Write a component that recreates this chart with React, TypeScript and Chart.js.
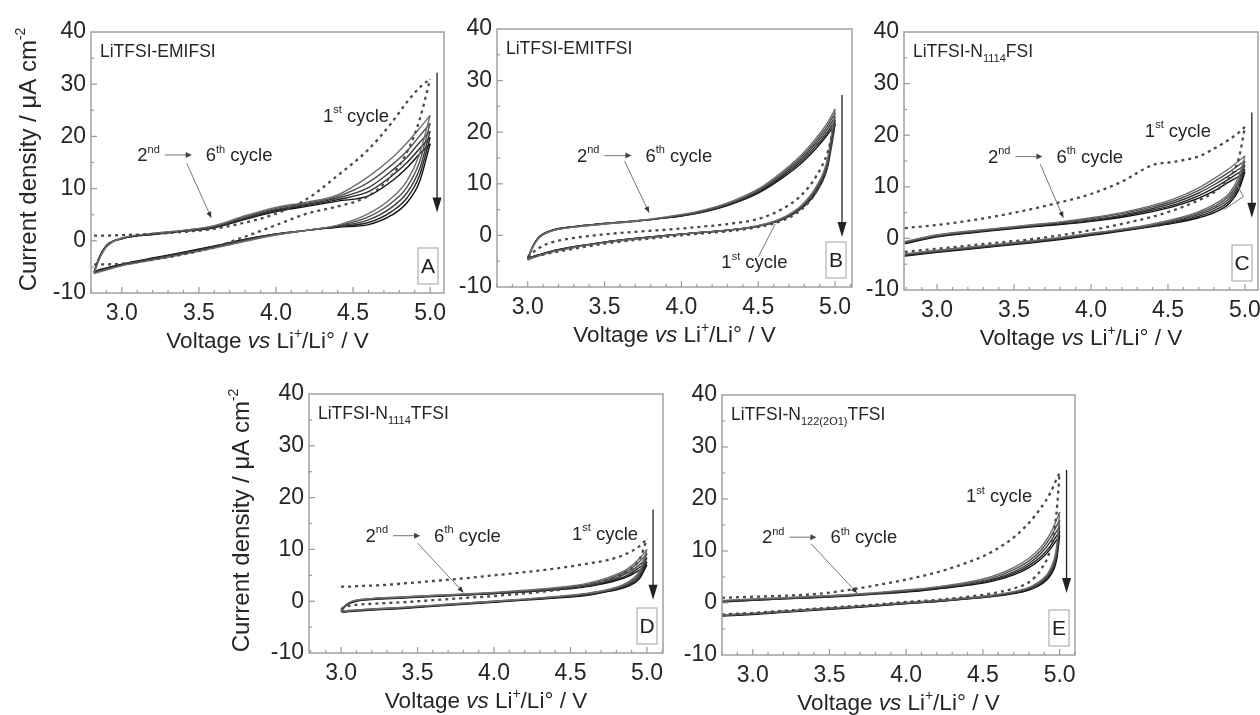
import React, { useEffect, useRef } from 'react';
import { Chart, registerables } from 'chart.js';
Chart.register(...registerables);

const FONT = '"Liberation Sans", Arial, Helvetica, sans-serif';
const X_TICKS = [3.0, 3.5, 4.0, 4.5, 5.0];
const Y_TICKS = [-10, 0, 10, 20, 30, 40];
const Y_MIN = -10;
const Y_MAX = 40;

// ---------- Panel A: LiTFSI-EMIFSI ----------
const A_V = [2.82, 2.85, 2.9, 3.0, 3.2, 3.4, 3.6, 3.8, 4.0, 4.2, 4.4, 4.6, 4.75, 4.85, 4.93, 5.0];
const A_C1_FWD = [1.0, 1.0, 1.0, 1.1, 1.3, 1.7, 2.3, 3.5, 5.2, 8.0, 12.5, 17.5, 22.6, 26.6, 29.3, 31.0];
const A_C1_REV = [-4.5, -4.5, -4.5, -4.4, -3.6, -2.6, -1.2, 0.8, 3.0, 5.2, 6.6, 8.6, 12.5, 17.0, 23.0, 31.0];
const A_FWD = [
  [-6.3, -3.8, -1.2, 0.5, 1.4, 2.0, 2.9, 4.8, 6.4, 7.4, 8.8, 12.3, 15.8, 18.8, 21.5, 24.0],
  [-6.2, -3.7, -1.1, 0.5, 1.4, 2.0, 2.8, 4.6, 6.2, 7.2, 8.5, 11.2, 14.5, 17.2, 20.0, 22.5],
  [-6.1, -3.6, -1.0, 0.5, 1.3, 1.9, 2.7, 4.4, 6.0, 7.0, 8.2, 10.2, 13.4, 16.0, 18.8, 21.0],
  [-6.0, -3.5, -1.0, 0.4, 1.3, 1.9, 2.6, 4.3, 5.8, 6.8, 7.9, 9.4, 12.4, 15.0, 17.6, 19.8],
  [-6.0, -3.4, -0.9, 0.4, 1.2, 1.8, 2.5, 4.1, 5.6, 6.6, 7.6, 8.6, 11.4, 14.0, 16.6, 18.6],
];
const A_REV = [
  [-6.3, -6.0, -5.6, -4.8, -3.7, -2.6, -1.4, -0.1, 1.1, 2.0, 3.0, 5.2, 8.2, 11.5, 16.5, 24.0],
  [-6.2, -5.9, -5.5, -4.7, -3.6, -2.5, -1.3, 0.0, 1.2, 2.0, 2.9, 4.6, 7.3, 10.3, 15.0, 22.5],
  [-6.1, -5.8, -5.4, -4.7, -3.5, -2.4, -1.2, 0.1, 1.2, 2.0, 2.8, 4.0, 6.4, 9.2, 13.6, 21.0],
  [-6.0, -5.7, -5.3, -4.6, -3.4, -2.3, -1.1, 0.2, 1.3, 2.0, 2.7, 3.5, 5.6, 8.2, 12.4, 19.8],
  [-6.0, -5.6, -5.2, -4.5, -3.3, -2.2, -1.0, 0.3, 1.3, 2.0, 2.6, 3.1, 4.9, 7.3, 11.2, 18.6],
];

// ---------- Panel B: LiTFSI-EMITFSI ----------
const B_V = [3.0, 3.03, 3.07, 3.15, 3.3, 3.5, 3.7, 3.9, 4.1, 4.3, 4.5, 4.65, 4.78, 4.88, 4.95, 5.0];
const B_C1_FWD = [-4.2, -3.4, -2.5, -1.4, -0.5, 0.2, 0.7, 1.1, 1.6, 2.2, 3.2, 5.0, 7.8, 11.6, 16.0, 22.0];
const B_C1_REV = [-4.2, -4.1, -3.9, -3.4, -2.6, -1.6, -0.9, -0.3, 0.3, 0.8, 1.6, 2.8, 5.0, 8.6, 13.5, 22.0];
const B_FWD = [
  [-4.8, -2.5, -0.6, 0.8, 1.6, 2.2, 2.8, 3.6, 4.6, 6.3, 9.0, 12.2, 15.6, 19.0, 21.8, 24.5],
  [-4.7, -2.4, -0.5, 0.8, 1.6, 2.2, 2.7, 3.5, 4.5, 6.1, 8.8, 11.9, 15.2, 18.5, 21.2, 23.8],
  [-4.6, -2.4, -0.5, 0.9, 1.7, 2.3, 2.8, 3.5, 4.4, 6.0, 8.6, 11.6, 14.8, 18.0, 20.6, 23.0],
  [-4.6, -2.3, -0.4, 0.9, 1.7, 2.3, 2.8, 3.4, 4.3, 5.9, 8.4, 11.3, 14.4, 17.5, 20.0, 22.3],
  [-4.5, -2.3, -0.4, 0.9, 1.7, 2.3, 2.8, 3.4, 4.3, 5.8, 8.2, 11.0, 14.0, 17.0, 19.5, 21.6],
];
const B_REV = [
  [-4.8, -4.4, -4.0, -3.3, -2.4, -1.4, -0.7, -0.1, 0.5, 1.0, 1.9, 3.3, 5.8, 9.6, 14.8, 24.5],
  [-4.7, -4.3, -3.9, -3.2, -2.3, -1.4, -0.7, -0.1, 0.5, 1.0, 1.9, 3.2, 5.6, 9.3, 14.4, 23.8],
  [-4.6, -4.2, -3.9, -3.2, -2.3, -1.3, -0.6, 0.0, 0.5, 1.0, 1.8, 3.1, 5.5, 9.0, 14.0, 23.0],
  [-4.6, -4.2, -3.8, -3.1, -2.2, -1.3, -0.6, 0.0, 0.5, 1.0, 1.8, 3.0, 5.3, 8.7, 13.6, 22.3],
  [-4.5, -4.1, -3.8, -3.1, -2.2, -1.3, -0.6, 0.0, 0.5, 1.0, 1.8, 3.0, 5.2, 8.5, 13.2, 21.6],
];

// ---------- Panel C: LiTFSI-N1114FSI ----------
const C_V = [2.79, 3.0, 3.2, 3.4, 3.6, 3.8, 4.0, 4.2, 4.4, 4.55, 4.7, 4.8, 4.9, 4.96, 5.0];
const C_C1_FWD = [2.0, 2.6, 3.4, 4.4, 5.6, 7.0, 8.6, 11.0, 14.2, 14.9, 15.9, 17.4, 19.2, 20.5, 21.6];
const C_C1_REV = [-2.6, -2.0, -1.4, -0.8, -0.2, 0.6, 1.6, 2.8, 4.2, 5.6, 7.4, 9.0, 11.8, 15.5, 21.6];
const C_FWD = [
  [-0.6, 0.7, 1.4, 2.0, 2.6, 3.2, 4.0, 5.0, 6.4, 7.8, 9.8, 11.6, 13.6, 15.0, 16.0],
  [-0.7, 0.6, 1.3, 1.9, 2.5, 3.1, 3.8, 4.8, 6.1, 7.4, 9.3, 11.0, 12.9, 14.2, 15.0],
  [-0.8, 0.5, 1.2, 1.8, 2.4, 3.0, 3.6, 4.5, 5.8, 7.0, 8.8, 10.4, 12.2, 13.4, 14.2],
  [-0.9, 0.4, 1.1, 1.7, 2.3, 2.8, 3.4, 4.3, 5.5, 6.6, 8.3, 9.8, 11.6, 12.7, 13.4],
  [-1.0, 0.3, 1.0, 1.6, 2.2, 2.7, 3.3, 4.1, 5.2, 6.3, 7.8, 9.2, 11.0, 12.0, 12.8],
];
const C_REV = [
  [-3.0, -2.3, -1.7, -1.1, -0.5, 0.2, 1.0, 1.8, 2.8, 3.8, 5.2, 6.6, 8.8, 12.0, 16.0],
  [-3.1, -2.4, -1.8, -1.2, -0.6, 0.1, 0.9, 1.7, 2.6, 3.6, 4.9, 6.2, 8.3, 11.2, 15.0],
  [-3.2, -2.5, -1.9, -1.3, -0.7, 0.0, 0.8, 1.6, 2.5, 3.4, 4.6, 5.8, 7.8, 10.6, 14.2],
  [-3.3, -2.6, -2.0, -1.4, -0.8, -0.1, 0.7, 1.5, 2.4, 3.2, 4.3, 5.4, 7.3, 10.0, 13.4],
  [-3.4, -2.7, -2.1, -1.5, -0.9, -0.2, 0.6, 1.4, 2.3, 3.0, 4.0, 5.0, 6.8, 9.4, 12.8],
];
const C_BRACKET_X = [4.95, 4.99, 4.86];
const C_BRACKET_Y = [10.4, 8.1, 5.5];

// ---------- Panel D: LiTFSI-N1114TFSI ----------
const D_V = [3.0, 3.02, 3.05, 3.1, 3.2, 3.4, 3.6, 3.8, 4.0, 4.2, 4.4, 4.6, 4.75, 4.87, 4.95, 5.0];
const D_C1_FWD = [2.8, 2.8, 2.8, 2.9, 3.0, 3.4, 3.9, 4.4, 5.0, 5.6, 6.3, 7.2, 8.0, 9.2, 10.6, 12.0];
const D_C1_REV = [-1.5, -1.2, -0.9, -0.7, -0.5, -0.2, 0.2, 0.6, 1.0, 1.5, 2.1, 3.0, 4.2, 5.8, 8.0, 12.0];
const D_FWD = [
  [-1.8, -1.0, -0.3, 0.2, 0.5, 0.8, 1.1, 1.4, 1.7, 2.1, 2.6, 3.4, 4.6, 6.2, 8.2, 10.0],
  [-1.8, -1.0, -0.3, 0.2, 0.5, 0.8, 1.1, 1.3, 1.6, 2.0, 2.5, 3.2, 4.3, 5.8, 7.6, 9.2],
  [-1.9, -1.1, -0.4, 0.1, 0.4, 0.7, 1.0, 1.3, 1.6, 1.9, 2.4, 3.0, 4.0, 5.4, 7.0, 8.4],
  [-1.9, -1.1, -0.4, 0.1, 0.4, 0.7, 1.0, 1.2, 1.5, 1.8, 2.3, 2.9, 3.8, 5.0, 6.5, 7.6],
  [-2.0, -1.2, -0.5, 0.0, 0.3, 0.6, 0.9, 1.2, 1.5, 1.8, 2.2, 2.8, 3.6, 4.7, 6.0, 7.0],
];
const D_REV = [
  [-1.8, -1.9, -1.8, -1.7, -1.5, -1.2, -0.8, -0.4, 0.0, 0.4, 0.9, 1.5, 2.3, 3.6, 5.8, 10.0],
  [-1.8, -1.9, -1.8, -1.7, -1.5, -1.2, -0.8, -0.4, 0.0, 0.4, 0.8, 1.4, 2.2, 3.4, 5.4, 9.2],
  [-1.9, -2.0, -1.9, -1.8, -1.6, -1.3, -0.9, -0.5, -0.1, 0.3, 0.8, 1.3, 2.1, 3.2, 5.0, 8.4],
  [-1.9, -2.0, -1.9, -1.8, -1.6, -1.3, -0.9, -0.5, -0.1, 0.3, 0.7, 1.2, 2.0, 3.0, 4.6, 7.6],
  [-2.0, -2.1, -2.0, -1.9, -1.7, -1.4, -1.0, -0.6, -0.2, 0.2, 0.6, 1.1, 1.9, 2.8, 4.3, 7.0],
];

// ---------- Panel E: LiTFSI-N122(2O1)TFSI ----------
const E_V = [2.8, 3.0, 3.2, 3.4, 3.6, 3.8, 4.0, 4.2, 4.4, 4.55, 4.7, 4.8, 4.88, 4.94, 4.98, 5.0];
const E_C1_FWD = [1.0, 1.2, 1.4, 1.7, 2.4, 3.4, 4.5, 5.9, 7.8, 9.7, 12.6, 15.4, 18.4, 21.2, 23.8, 25.0];
const E_C1_REV = [-2.2, -1.9, -1.5, -1.1, -0.7, -0.3, 0.2, 0.6, 1.2, 1.8, 2.8, 4.0, 6.5, 10.5, 17.5, 25.0];
const E_FWD = [
  [0.5, 0.8, 1.0, 1.3, 1.6, 2.0, 2.5, 3.1, 4.0, 5.0, 6.8, 8.6, 10.8, 13.4, 16.0, 17.5],
  [0.4, 0.7, 0.9, 1.2, 1.5, 1.9, 2.4, 3.0, 3.8, 4.7, 6.4, 8.1, 10.2, 12.6, 14.8, 16.0],
  [0.3, 0.6, 0.9, 1.1, 1.4, 1.8, 2.3, 2.9, 3.6, 4.5, 6.0, 7.6, 9.6, 11.8, 13.8, 14.8],
  [0.3, 0.5, 0.8, 1.1, 1.4, 1.8, 2.2, 2.8, 3.5, 4.3, 5.7, 7.2, 9.0, 11.0, 12.9, 13.8],
  [0.2, 0.5, 0.8, 1.0, 1.3, 1.7, 2.1, 2.7, 3.4, 4.1, 5.4, 6.8, 8.5, 10.4, 12.1, 13.0],
];
const E_REV = [
  [-2.3, -2.0, -1.6, -1.2, -0.8, -0.4, 0.1, 0.5, 1.0, 1.5, 2.2, 3.0, 4.4, 6.6, 10.8, 17.5],
  [-2.3, -2.0, -1.6, -1.2, -0.8, -0.4, 0.0, 0.4, 0.9, 1.4, 2.1, 2.9, 4.2, 6.2, 10.0, 16.0],
  [-2.4, -2.1, -1.7, -1.3, -0.9, -0.5, 0.0, 0.4, 0.9, 1.3, 2.0, 2.8, 4.0, 5.9, 9.4, 14.8],
  [-2.4, -2.1, -1.7, -1.3, -0.9, -0.5, -0.1, 0.3, 0.8, 1.3, 1.9, 2.6, 3.8, 5.6, 8.8, 13.8],
  [-2.5, -2.2, -1.8, -1.4, -1.0, -0.6, -0.1, 0.3, 0.8, 1.2, 1.8, 2.5, 3.6, 5.3, 8.3, 13.0],
];

type Seg = [string, 'n' | 'sub' | 'sup' | 'it'];

interface Panel {
  id: string;
  letter: string;
  area: { left: number; top: number; right: number; bottom: number };
  xMin: number;
  xMax: number;
  title: Seg[];
  V: number[];
  c1f: number[];
  c1r: number[];
  fwd: number[][];
  rev: number[][];
  arrow: { x: number; y1: number; y2: number };
  first: { x: number; y: number; lead?: number[] };
  range: { x: number; y: number; lead: number[] };
  bracketX?: number[];
  bracketY?: number[];
  yTitleX?: number;
}

const PANELS: Panel[] = [
  {
    id: 'A', letter: 'A',
    area: { left: 91, top: 32, right: 444, bottom: 293 },
    xMin: 2.8, xMax: 5.09,
    title: [['LiTFSI-EMIFSI', 'n']],
    V: A_V, c1f: A_C1_FWD, c1r: A_C1_REV, fwd: A_FWD, rev: A_REV,
    arrow: { x: 5.045, y1: 32.2, y2: 5.4 },
    first: { x: 4.305, y: 22.8 },
    range: { x: 3.1, y: 15.3, lead: [3.42, 14.9, 3.58, 4.4] },
    yTitleX: 28,
  },
  {
    id: 'B', letter: 'B',
    area: { left: 497, top: 29, right: 852, bottom: 287 },
    xMin: 2.8, xMax: 5.11,
    title: [['LiTFSI-EMITFSI', 'n']],
    V: B_V, c1f: B_C1_FWD, c1r: B_C1_REV, fwd: B_FWD, rev: B_REV,
    arrow: { x: 5.045, y1: 27.2, y2: -0.3 },
    first: { x: 4.26, y: -6.3, lead: [4.5, -4.2, 4.61, 2.2] },
    range: { x: 3.32, y: 14.3, lead: [3.63, 14.4, 3.79, 4.4] },
  },
  {
    id: 'C', letter: 'C',
    area: { left: 904, top: 32, right: 1258, bottom: 290 },
    xMin: 2.785, xMax: 5.085,
    title: [['LiTFSI-N', 'n'], ['1114', 'sub'], ['FSI', 'n']],
    V: C_V, c1f: C_C1_FWD, c1r: C_C1_REV, fwd: C_FWD, rev: C_REV,
    arrow: { x: 5.045, y1: 24.4, y2: 4.0 },
    first: { x: 4.35, y: 19.7 },
    range: { x: 3.33, y: 14.7, lead: [3.67, 14.4, 3.82, 4.0] },
    bracketX: C_BRACKET_X, bracketY: C_BRACKET_Y,
  },
  {
    id: 'D', letter: 'D',
    area: { left: 309, top: 394, right: 663, bottom: 653 },
    xMin: 2.79, xMax: 5.105,
    title: [['LiTFSI-N', 'n'], ['1114', 'sub'], ['TFSI', 'n']],
    V: D_V, c1f: D_C1_FWD, c1r: D_C1_REV, fwd: D_FWD, rev: D_REV,
    arrow: { x: 5.04, y1: 17.7, y2: 0.3 },
    first: { x: 4.51, y: 11.9 },
    range: { x: 3.16, y: 11.5, lead: [3.5, 11.2, 3.8, 1.7] },
    yTitleX: 241,
  },
  {
    id: 'E', letter: 'E',
    area: { left: 722, top: 395, right: 1075, bottom: 655 },
    xMin: 2.8, xMax: 5.1,
    title: [['LiTFSI-N', 'n'], ['122(2O1)', 'sub'], ['TFSI', 'n']],
    V: E_V, c1f: E_C1_FWD, c1r: E_C1_REV, fwd: E_FWD, rev: E_REV,
    arrow: { x: 5.045, y1: 25.6, y2: 1.9 },
    first: { x: 4.39, y: 19.4 },
    range: { x: 3.06, y: 11.5, lead: [3.38, 11.4, 3.68, 1.9] },
  },
];

const W = 1260;
const H = 715;
const YW = 40;
const XH = 34;
const TEXT = '#262626';
const SOLID_COLORS = ['#6e6e6e', '#505050', '#3c3c3c', '#262626', '#101010'];

function segFont(kind: string, size: number) {
  const fs = kind === 'sub' || kind === 'sup' ? Math.round(size * 0.6) : size;
  return `${kind === 'it' ? 'italic ' : ''}${fs}px ${FONT}`;
}
function richWidth(ctx: CanvasRenderingContext2D, parts: Seg[], size: number) {
  let w = 0;
  for (const [t, k] of parts) {
    ctx.font = segFont(k, size);
    w += ctx.measureText(t).width;
  }
  return w;
}
function drawRich(ctx: CanvasRenderingContext2D, parts: Seg[], x: number, y: number, size: number) {
  let cx = x;
  for (const [t, k] of parts) {
    ctx.font = segFont(k, size);
    const dy = k === 'sub' ? size * 0.3 : k === 'sup' ? -size * 0.45 : 0;
    ctx.fillText(t, cx, y + dy);
    cx += ctx.measureText(t).width;
  }
  return cx - x;
}
function arrowHead(ctx: CanvasRenderingContext2D, x1: number, y1: number, x2: number, y2: number, len: number, hw: number) {
  const a = Math.atan2(y2 - y1, x2 - x1);
  const bx = x2 - len * Math.cos(a);
  const by = y2 - len * Math.sin(a);
  ctx.beginPath();
  ctx.moveTo(x2, y2);
  ctx.lineTo(bx + hw * Math.sin(a), by - hw * Math.cos(a));
  ctx.lineTo(bx - hw * Math.sin(a), by + hw * Math.cos(a));
  ctx.closePath();
  ctx.fill();
}

function decor(p: Panel) {
  return {
    id: 'decor' + p.id,
    afterDraw(chart: any) {
      const ctx: CanvasRenderingContext2D = chart.ctx;
      const xs = chart.scales.x;
      const ys = chart.scales.y;
      const X = (v: number) => xs.getPixelForValue(v);
      const Y = (v: number) => ys.getPixelForValue(v);
      const a = chart.chartArea;
      ctx.save();
      ctx.textAlign = 'left';
      ctx.textBaseline = 'alphabetic';
      // frame
      ctx.strokeStyle = '#a0a0a0';
      ctx.lineWidth = 1.5;
      ctx.strokeRect(a.left, a.top, a.right - a.left, a.bottom - a.top);
      // inward ticks
      ctx.strokeStyle = '#9a9a9a';
      ctx.lineWidth = 1.2;
      for (let k = Math.ceil(p.xMin * 10); k <= Math.floor(p.xMax * 10); k++) {
        const px = X(k / 10);
        const len = k % 5 === 0 ? 6 : 3;
        ctx.beginPath();
        ctx.moveTo(px, a.bottom);
        ctx.lineTo(px, a.bottom - len);
        ctx.stroke();
      }
      for (let v = Y_MIN + 5; v < Y_MAX; v += 5) {
        const py = Y(v);
        const len = v % 10 === 0 ? 6 : 3;
        ctx.beginPath();
        ctx.moveTo(a.left, py);
        ctx.lineTo(a.left + len, py);
        ctx.stroke();
      }
      // panel title
      ctx.fillStyle = TEXT;
      drawRich(ctx, p.title, a.left + 9, a.top + 25, 17.5);
      // letter box
      const bw = 20, bh = 36;
      const bx = a.right - 6 - bw, by = a.bottom - 9 - bh;
      ctx.strokeStyle = '#a0a0a0';
      ctx.lineWidth = 1;
      ctx.strokeRect(bx, by, bw, bh);
      ctx.font = `21px ${FONT}`;
      ctx.textAlign = 'center';
      ctx.textBaseline = 'middle';
      ctx.fillStyle = '#1e1e1e';
      ctx.fillText(p.letter, bx + bw / 2, by + bh / 2 + 1);
      ctx.textAlign = 'left';
      ctx.textBaseline = 'alphabetic';
      // vertical arrow
      const axp = X(p.arrow.x);
      const ay1 = Y(p.arrow.y1), ay2 = Y(p.arrow.y2);
      ctx.strokeStyle = '#222';
      ctx.fillStyle = '#222';
      ctx.lineWidth = 1.3;
      ctx.beginPath();
      ctx.moveTo(axp, ay1);
      ctx.lineTo(axp, ay2 - 10);
      ctx.stroke();
      arrowHead(ctx, axp, ay1, axp, ay2, 15, 4.5);
      // 1st cycle label
      ctx.fillStyle = TEXT;
      drawRich(ctx, [['1', 'n'], ['st', 'sup'], [' cycle', 'n']], X(p.first.x), Y(p.first.y), 18.5);
      if (p.first.lead) {
        const l = p.first.lead;
        ctx.strokeStyle = '#777';
        ctx.lineWidth = 1;
        ctx.beginPath();
        ctx.moveTo(X(l[0]), Y(l[1]));
        ctx.lineTo(X(l[2]), Y(l[3]));
        ctx.stroke();
      }
      // 2nd -> 6th cycle label
      const rx = X(p.range.x), ry = Y(p.range.y);
      ctx.fillStyle = TEXT;
      const w2 = drawRich(ctx, [['2', 'n'], ['nd', 'sup']], rx, ry, 18.5);
      const ax1 = rx + w2 + 5, ax2 = ax1 + 27, ayy = ry - 6;
      ctx.strokeStyle = '#8a8a8a';
      ctx.lineWidth = 1.2;
      ctx.beginPath();
      ctx.moveTo(ax1, ayy);
      ctx.lineTo(ax2 - 4, ayy);
      ctx.stroke();
      ctx.fillStyle = '#444';
      arrowHead(ctx, ax1, ayy, ax2, ayy, 6, 3);
      ctx.fillStyle = TEXT;
      drawRich(ctx, [['6', 'n'], ['th', 'sup'], [' cycle', 'n']], ax2 + 14, ry, 18.5);
      const l = p.range.lead;
      const lx1 = X(l[0]), ly1 = Y(l[1]), lx2 = X(l[2]), ly2 = Y(l[3]);
      ctx.strokeStyle = '#777';
      ctx.lineWidth = 1;
      ctx.beginPath();
      ctx.moveTo(lx1, ly1);
      ctx.lineTo(lx2, ly2);
      ctx.stroke();
      ctx.fillStyle = '#333';
      arrowHead(ctx, lx1, ly1, lx2, ly2, 6, 2.5);
      // bracket
      if (p.bracketX && p.bracketY) {
        ctx.strokeStyle = '#777';
        ctx.lineWidth = 1;
        ctx.beginPath();
        p.bracketX.forEach((bxv, i) => {
          const px = X(bxv), py = Y(p.bracketY![i]);
          if (i === 0) ctx.moveTo(px, py); else ctx.lineTo(px, py);
        });
        ctx.stroke();
      }
      // x title
      ctx.fillStyle = TEXT;
      const xt: Seg[] = [['Voltage ', 'n'], ['vs', 'it'], [' Li', 'n'], ['+', 'sup'], ['/Li\u00b0 / V', 'n']];
      const xw = richWidth(ctx, xt, 22.5);
      drawRich(ctx, xt, (a.left + a.right) / 2 - xw / 2, a.bottom + 55, 22.5);
      // y title
      if (p.yTitleX !== undefined) {
        const yt: Seg[] = [['Current density / \u03bcA cm', 'n'], ['-2', 'sup']];
        ctx.save();
        ctx.translate(p.yTitleX, (a.top + a.bottom) / 2 - 3);
        ctx.rotate(-Math.PI / 2);
        const yw = richWidth(ctx, yt, 24);
        drawRich(ctx, yt, -yw / 2, 8, 24);
        ctx.restore();
      }
      ctx.restore();
    },
  };
}

function buildConfig(p: Panel): any {
  const datasets: any[] = [];
  const line = (ys: number[], color: string, width: number, dash: number[]) => ({
    data: p.V.map((x, i) => ({ x, y: ys[i] })),
    showLine: true,
    pointRadius: 0,
    borderColor: color,
    backgroundColor: color,
    borderWidth: width,
    borderDash: dash,
    cubicInterpolationMode: 'monotone',
    fill: false,
  });
  datasets.push(line(p.c1f, '#4a4a4a', 2.3, [3, 4]));
  datasets.push(line(p.c1r, '#4a4a4a', 2.3, [3, 4]));
  p.fwd.forEach((f, i) => {
    datasets.push(line(f, SOLID_COLORS[i], 1.4, []));
    datasets.push(line(p.rev[i], SOLID_COLORS[i], 1.4, []));
  });
  const a = p.area;
  const tickFont = { family: FONT, size: 23 };
  return {
    type: 'scatter',
    data: { datasets },
    options: {
      responsive: false,
      maintainAspectRatio: false,
      animation: false,
      devicePixelRatio: 1,
      events: [],
      layout: {
        padding: { left: a.left - YW, top: a.top, right: W - a.right, bottom: H - a.bottom - XH },
      },
      plugins: { legend: { display: false }, tooltip: { enabled: false }, title: { display: false } },
      scales: {
        x: {
          type: 'linear',
          position: 'bottom',
          min: p.xMin,
          max: p.xMax,
          grid: { display: false, drawTicks: false },
          border: { display: false },
          afterBuildTicks: (s: any) => { s.ticks = X_TICKS.map((v) => ({ value: v })); },
          afterFit: (s: any) => { s.height = XH; s.paddingLeft = 0; s.paddingRight = 0; },
          ticks: {
            autoSkip: false,
            maxRotation: 0,
            padding: 7,
            color: TEXT,
            font: tickFont,
            callback: (v: any) => Number(v).toFixed(1),
          },
        },
        y: {
          type: 'linear',
          position: 'left',
          min: Y_MIN,
          max: Y_MAX,
          grid: { display: false, drawTicks: false },
          border: { display: false },
          afterBuildTicks: (s: any) => { s.ticks = Y_TICKS.map((v) => ({ value: v })); },
          afterFit: (s: any) => { s.width = YW; s.paddingTop = 0; s.paddingBottom = 0; },
          ticks: {
            autoSkip: false,
            padding: 5,
            color: TEXT,
            font: tickFont,
            callback: (v: any) => String(v),
          },
        },
      },
    },
    plugins: [decor(p)],
  };
}

export default function App() {
  const refs = useRef<(HTMLCanvasElement | null)[]>([]);
  useEffect(() => {
    const charts = PANELS.map((p, i) => new Chart(refs.current[i] as HTMLCanvasElement, buildConfig(p)));
    return () => charts.forEach((c) => c.destroy());
  }, []);
  return (
    <div style={{ position: 'absolute', left: 0, top: 0, width: W, height: H, background: '#fff', overflow: 'hidden' }}>
      {PANELS.map((p, i) => (
        <canvas
          key={p.id}
          ref={(el) => { refs.current[i] = el; }}
          width={W}
          height={H}
          style={{ position: 'absolute', left: 0, top: 0, width: W, height: H }}
        />
      ))}
    </div>
  );
}
